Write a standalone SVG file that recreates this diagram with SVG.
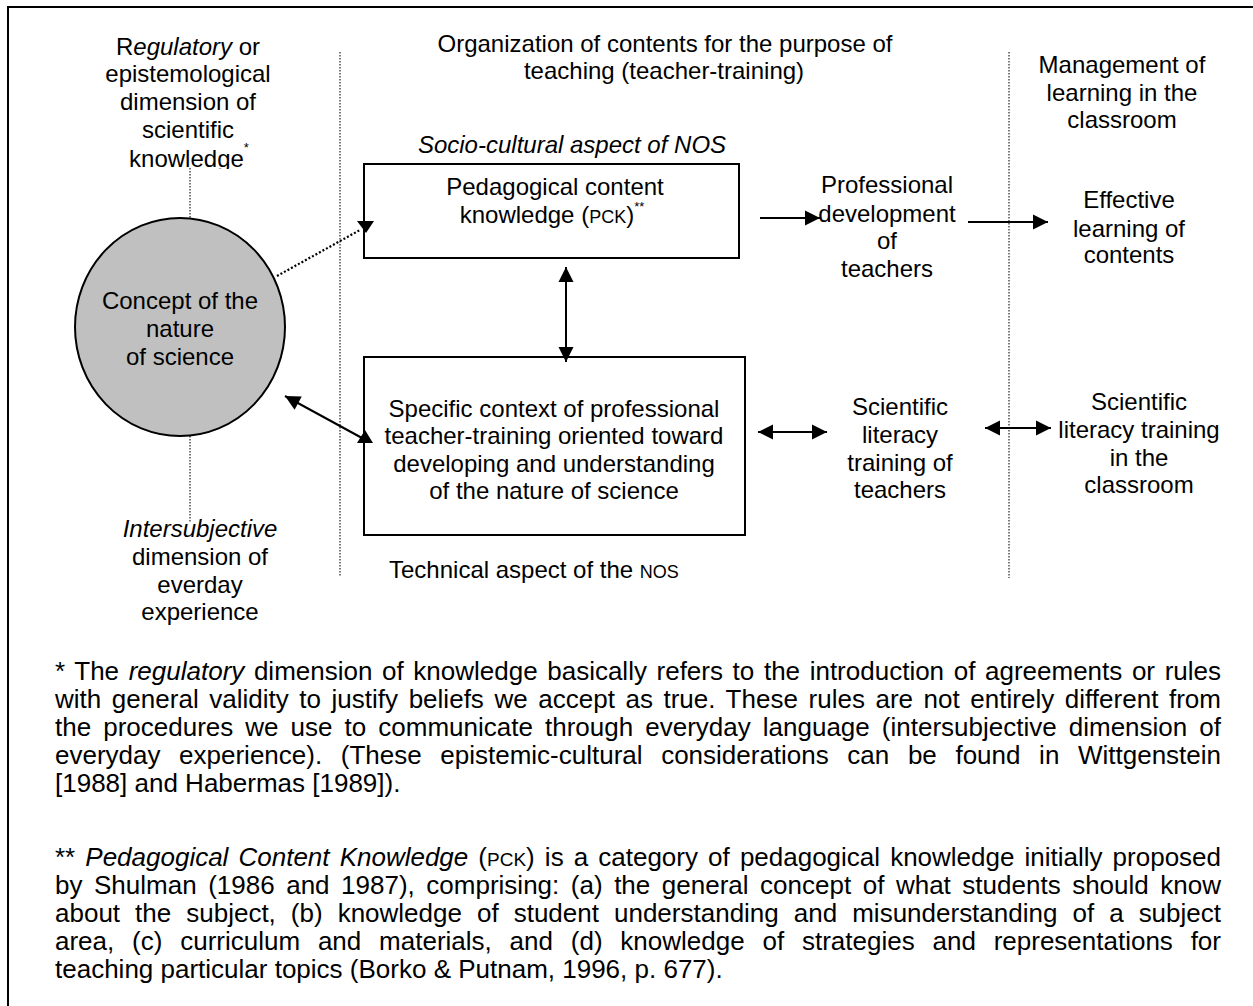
<svg xmlns="http://www.w3.org/2000/svg" width="1253" height="1006" viewBox="0 0 1253 1006">
<style>
text{font-family:"Liberation Sans",Arial,sans-serif;fill:#000}
.t{font-size:24px}
.c{text-anchor:middle}
.i{font-style:italic}
.sc{font-size:18px}
.sup{font-size:13px}
.fn{font-size:26px}
.box{fill:#fff;stroke:#000;stroke-width:2}
.ln{stroke:#000;stroke-width:2;fill:none}
.dot{stroke:#222;stroke-width:1.2;stroke-dasharray:1.5 1.5;fill:none}
</style>
<defs>
<marker id="ah" markerUnits="userSpaceOnUse" markerWidth="16" markerHeight="16" refX="15" refY="7.5" orient="auto-start-reverse" overflow="visible">
<path d="M0,0 L15,7.5 L0,15 Z" fill="#000"/>
</marker>
<clipPath id="clipTop"><rect x="0" y="0" width="340" height="169"/></clipPath>
</defs>
<rect width="1253" height="1006" fill="#fff"/>
<rect x="8" y="7" width="1300" height="1100" fill="none" stroke="#000" stroke-width="2"/>

<g id="guides">
<line class="dot" x1="340" y1="52" x2="340" y2="577"/>
<line class="dot" x1="1009" y1="52" x2="1009" y2="578"/>
<line class="dot" x1="190" y1="168" x2="190" y2="218"/>
<line class="dot" x1="190" y1="436" x2="190" y2="522"/>
</g>

<g id="label-regulatory" clip-path="url(#clipTop)">
<text class="t c" x="188" y="55">R<tspan class="i">egulatory</tspan> or</text>
<text class="t c" x="188" y="82">epistemological</text>
<text class="t c" x="188" y="110">dimension of</text>
<text class="t c" x="188" y="138">scientific</text>
<text class="t c" x="189" y="167">knowledge<tspan class="sup" dy="-15">*</tspan></text>
</g>

<g id="label-intersubjective">
<text class="t c i" x="200" y="537">Intersubjective</text>
<text class="t c" x="200" y="565">dimension of</text>
<text class="t c" x="200" y="593">everday</text>
<text class="t c" x="200" y="620">experience</text>
</g>

<g id="header-organization">
<text class="t c" x="665" y="52">Organization of contents for the purpose of</text>
<text class="t c" x="664" y="79">teaching (teacher-training)</text>
</g>

<g id="header-management">
<text class="t c" x="1122" y="73">Management of</text>
<text class="t c" x="1122" y="101">learning in the</text>
<text class="t c" x="1122" y="128">classroom</text>
</g>

<g id="node-nos">
<ellipse cx="180" cy="327" rx="105" ry="109" fill="#c0c0c0" stroke="#000" stroke-width="2"/>
<text class="t c" x="180" y="309">Concept of the</text>
<text class="t c" x="180" y="337">nature</text>
<text class="t c" x="180" y="365">of science</text>
</g>

<g id="node-pck">
<text class="t c i" x="572" y="153">Socio-cultural aspect of NOS</text>
<rect class="box" x="364" y="164" width="375" height="94"/>
<text class="t c" x="555" y="195">Pedagogical content</text>
<text class="t c" x="552" y="223">knowledge (<tspan class="sc">PCK</tspan>)<tspan class="sup" dy="-12">**</tspan></text>
</g>

<g id="node-context">
<rect class="box" x="364" y="357" width="381" height="178"/>
<text class="t c" x="554" y="417">Specific context of professional</text>
<text class="t c" x="554" y="444">teacher-training oriented toward</text>
<text class="t c" x="554" y="472">developing and understanding</text>
<text class="t c" x="554" y="499">of the nature of science</text>
<text class="t" x="389" y="578">Technical aspect of the <tspan class="sc">NOS</tspan></text>
</g>

<g id="node-profdev">
<text class="t c" x="887" y="193">Professional</text>
<text class="t c" x="887" y="222">development</text>
<text class="t c" x="887" y="249">of</text>
<text class="t c" x="887" y="277">teachers</text>
</g>

<g id="node-effective">
<text class="t c" x="1129" y="208">Effective</text>
<text class="t c" x="1129" y="237">learning of</text>
<text class="t c" x="1129" y="263">contents</text>
</g>

<g id="node-scilit-teachers">
<text class="t c" x="900" y="415">Scientific</text>
<text class="t c" x="900" y="443">literacy</text>
<text class="t c" x="900" y="471">training of</text>
<text class="t c" x="900" y="498">teachers</text>
</g>

<g id="node-scilit-classroom">
<text class="t c" x="1139" y="410">Scientific</text>
<text class="t c" x="1139" y="438">literacy training</text>
<text class="t c" x="1139" y="466">in the</text>
<text class="t c" x="1139" y="493">classroom</text>
</g>

<g id="connectors">
<line x1="277" y1="276" x2="360" y2="230" stroke="#000" stroke-width="2.2" stroke-dasharray="2 2"/>
<polygon points="357,221 374,221 366,233" fill="#000"/>
<line class="ln" x1="285" y1="396" x2="362" y2="438" marker-start="url(#ah)"/>
<polygon points="357,443 373,443 365,430" fill="#000"/>
<line class="ln" x1="566" y1="267" x2="566" y2="362" marker-start="url(#ah)" marker-end="url(#ah)"/>
<line class="ln" x1="760" y1="218" x2="820" y2="218" marker-end="url(#ah)"/>
<line class="ln" x1="968" y1="222" x2="1048" y2="222" marker-end="url(#ah)"/>
<line class="ln" x1="758" y1="432" x2="827" y2="432" marker-start="url(#ah)" marker-end="url(#ah)"/>
<line class="ln" x1="985" y1="428" x2="1051" y2="428" marker-start="url(#ah)" marker-end="url(#ah)"/>
</g>

<g id="footnotes">
<text class="fn" x="55" y="680" word-spacing="2.4" textLength="1166" lengthAdjust="spacing">* The <tspan class="i">regulatory</tspan> dimension of knowledge basically refers to the introduction of agreements or rules</text>
<text class="fn" x="55" y="708" word-spacing="3.3" textLength="1166" lengthAdjust="spacing">with general validity to justify beliefs we accept as true. These rules are not entirely different from</text>
<text class="fn" x="55" y="736" word-spacing="4.8" textLength="1166" lengthAdjust="spacing">the procedures we use to communicate through everyday language (intersubjective dimension of</text>
<text class="fn" x="55" y="764" word-spacing="11.4" textLength="1166" lengthAdjust="spacing">everyday experience). (These epistemic-cultural considerations can be found in Wittgenstein</text>
<text class="fn" x="55" y="792">[1988] and Habermas [1989]).</text>
<text class="fn" x="55" y="866" word-spacing="2.9" textLength="1166" lengthAdjust="spacing">** <tspan class="i">Pedagogical Content Knowledge</tspan> (<tspan style="font-size:19px">PCK</tspan>) is a category of pedagogical knowledge initially proposed</text>
<text class="fn" x="55" y="894" word-spacing="4.3" textLength="1166" lengthAdjust="spacing">by Shulman (1986 and 1987), comprising: (a) the general concept of what students should know</text>
<text class="fn" x="55" y="922" word-spacing="7.8" textLength="1166" lengthAdjust="spacing">about the subject, (b) knowledge of student understanding and misunderstanding of a subject</text>
<text class="fn" x="55" y="950" word-spacing="10.6" textLength="1166" lengthAdjust="spacing">area, (c) curriculum and materials, and (d) knowledge of strategies and representations for</text>
<text class="fn" x="55" y="978">teaching particular topics (Borko &amp; Putnam, 1996, p. 677).</text>
</g>
</svg>
